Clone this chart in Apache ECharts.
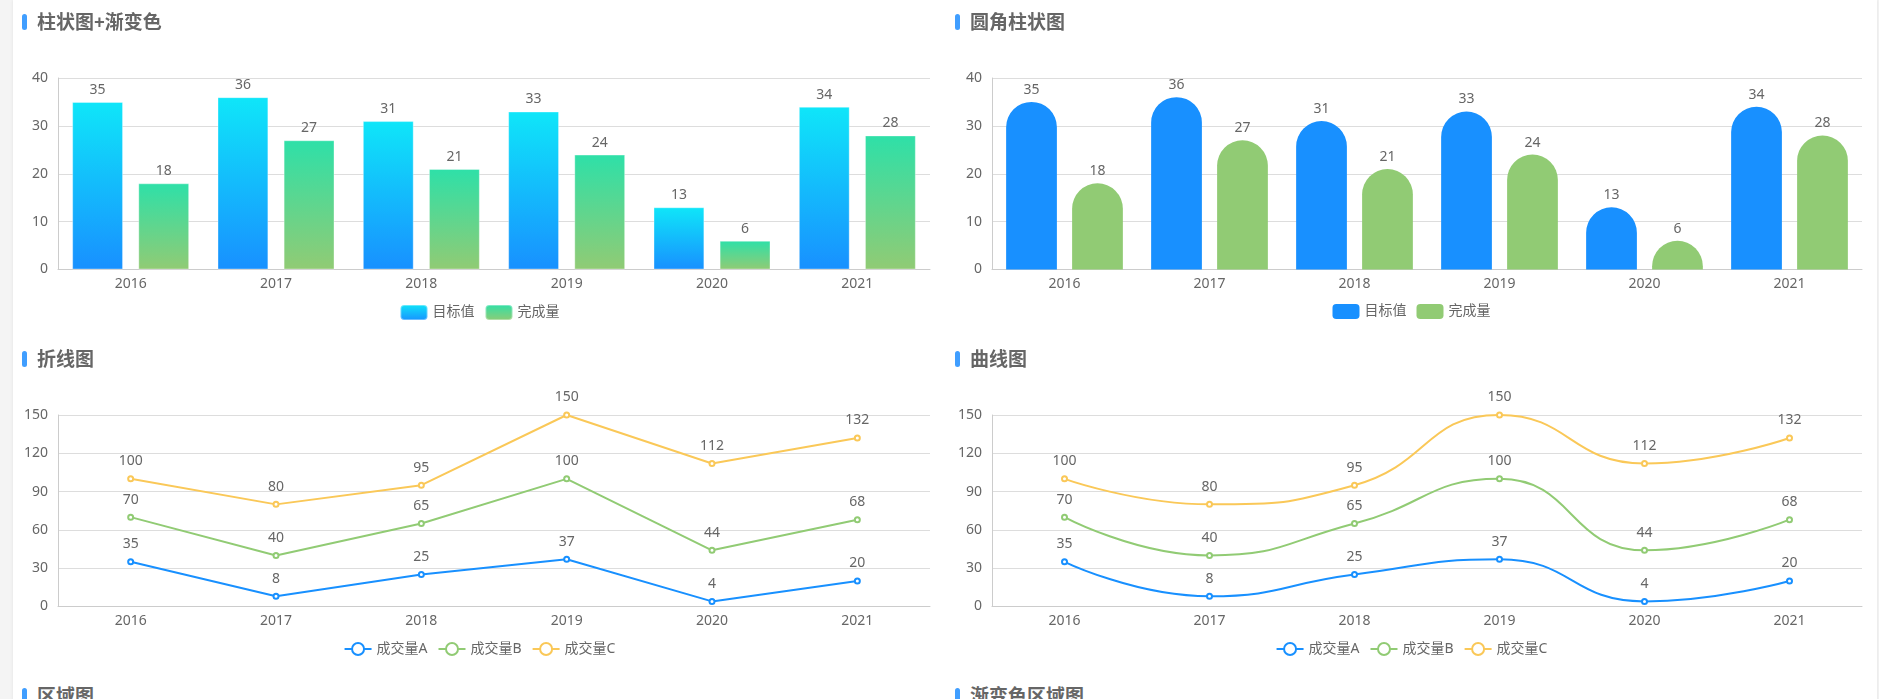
<!DOCTYPE html>
<html>
<head>
<meta charset="utf-8">
<script src="https://cdn.jsdelivr.net/npm/echarts@6/dist/echarts.min.js"></script>
<style>
  html, body { margin: 0; padding: 0; }
  body {
    width: 1879px; height: 699px; overflow: hidden;
    background: #f4f4f4;
    font-family: "Noto Sans", "Noto Sans CJK SC", sans-serif;
  }
  .page {
    position: absolute; left: 13px; top: 0; width: 1864px; height: 1100px;
    background: #fff; box-shadow: 0 0 3px rgba(0, 0, 0, 0.08);
  }
  .panel { position: absolute; }
  .title {
    position: absolute; left: 9px; top: 10px; height: 24px; line-height: 24px;
    padding-left: 15px; font-size: 19px; font-weight: bold; color: #666;
  }
  .title::before {
    content: ""; position: absolute; left: 0; top: 4px; width: 5px; height: 16px;
    border-radius: 3px; background: #409eff;
  }
  .chart { position: absolute; left: 0; top: 0; width: 100%; height: 100%; }
</style>
</head>
<body>
<div class="page">
  <div class="panel" style="left:0;top:0;width:933px;height:337px">
    <div class="chart" id="barGradient"></div>
    <div class="title">柱状图+渐变色</div>
  </div>
  <div class="panel" style="left:933px;top:0;width:931px;height:337px">
    <div class="chart" id="barRound"></div>
    <div class="title">圆角柱状图</div>
  </div>
  <div class="panel" style="left:0;top:337px;width:933px;height:337px">
    <div class="chart" id="lineChart"></div>
    <div class="title">折线图</div>
  </div>
  <div class="panel" style="left:933px;top:337px;width:931px;height:337px">
    <div class="chart" id="curveChart"></div>
    <div class="title">曲线图</div>
  </div>
  <div class="panel" style="left:0;top:674px;width:933px;height:337px">
    <div class="title">区域图</div>
  </div>
  <div class="panel" style="left:933px;top:674px;width:931px;height:337px">
    <div class="title">渐变色区域图</div>
  </div>
</div>
<script>
  // 数据
  var years = ["2016", "2017", "2018", "2019", "2020", "2021"];
  var targetValues = [35, 36, 31, 33, 13, 34];
  var doneValues = [18, 27, 21, 24, 6, 28];
  var dealA = [35, 8, 25, 37, 4, 20];
  var dealB = [70, 40, 65, 100, 44, 68];
  var dealC = [100, 80, 95, 150, 112, 132];

  var fontFamily = '"Noto Sans", "Noto Sans CJK SC", sans-serif';
  var textGray = "#666";

  function gradient(top, bottom) {
    return new echarts.graphic.LinearGradient(0, 0, 0, 1, [
      { offset: 0, color: top },
      { offset: 1, color: bottom }
    ]);
  }

  // 公共坐标轴配置
  function baseOption(gridLeft, gridRight, legendTop, yMax, yInterval) {
    return {
      textStyle: { fontFamily: fontFamily },
      grid: { left: gridLeft, right: gridRight, top: 78, bottom: 67.5 },
      legend: {
        top: legendTop,
        left: "center",
        itemWidth: 27,
        itemHeight: 15,
        itemGap: 10,
        textStyle: { fontSize: 14, color: textGray, fontFamily: fontFamily }
      },
      xAxis: {
        type: "category",
        data: years,
        axisLine: { lineStyle: { color: "#ccc" } },
        axisTick: { lineStyle: { color: "#ccc" } },
        axisLabel: { fontSize: 14, color: textGray, margin: 8 }
      },
      yAxis: {
        type: "value",
        min: 0,
        max: yMax,
        interval: yInterval,
        axisLine: { show: true, lineStyle: { color: "#ccc" } },
        axisTick: { show: false },
        splitLine: { lineStyle: { color: "#ddd" } },
        axisLabel: { fontSize: 14, color: textGray, margin: 10 }
      }
    };
  }

  function barLabel() {
    return { show: true, position: "top", fontSize: 14, color: textGray, distance: 5 };
  }

  // 柱状图+渐变色
  var chart1 = echarts.init(document.getElementById("barGradient"));
  var option1 = baseOption(45, 16, 299, 40, 10);
  option1.series = [
    {
      name: "目标值",
      type: "bar",
      data: targetValues,
      barWidth: "35%",
      barGap: "30%",
      label: barLabel(),
      itemStyle: {
        color: gradient("#0fe6f9", "#1890ff"),
        borderColor: "rgba(255,255,255,0.35)",
        borderWidth: 1
      }
    },
    {
      name: "完成量",
      type: "bar",
      data: doneValues,
      barWidth: "35%",
      label: barLabel(),
      itemStyle: {
        color: gradient("#2ee0a8", "#91cb74"),
        borderColor: "rgba(255,255,255,0.35)",
        borderWidth: 1
      }
    }
  ];
  chart1.setOption(option1);

  // 圆角柱状图
  var chart2 = echarts.init(document.getElementById("barRound"));
  var option2 = baseOption(46, 15, 299, 40, 10);
  option2.series = [
    {
      name: "目标值",
      type: "bar",
      data: targetValues,
      barWidth: "35%",
      barGap: "30%",
      label: barLabel(),
      itemStyle: { color: "#1890ff", borderRadius: [100, 100, 0, 0] }
    },
    {
      name: "完成量",
      type: "bar",
      data: doneValues,
      barWidth: "35%",
      label: barLabel(),
      itemStyle: { color: "#91cb74", borderRadius: [100, 100, 0, 0] }
    }
  ];
  chart2.setOption(option2);

  // 折线图 / 曲线图
  function lineSeries(name, data, color, smooth) {
    return {
      name: name,
      type: "line",
      data: data,
      smooth: smooth,
      symbol: "emptyCircle",
      symbolSize: 5,
      lineStyle: { width: 2, color: color },
      itemStyle: { color: color },
      label: { show: true, position: "top", fontSize: 14, color: textGray, distance: 7 }
    };
  }

  var chart3 = echarts.init(document.getElementById("lineChart"));
  var option3 = baseOption(45, 16, 300, 150, 30);
  option3.series = [
    lineSeries("成交量A", dealA, "#1890ff", false),
    lineSeries("成交量B", dealB, "#91cb74", false),
    lineSeries("成交量C", dealC, "#fac858", false)
  ];
  chart3.setOption(option3);

  var chart4 = echarts.init(document.getElementById("curveChart"));
  var option4 = baseOption(46, 15, 300, 150, 30);
  option4.series = [
    lineSeries("成交量A", dealA, "#1890ff", true),
    lineSeries("成交量B", dealB, "#91cb74", true),
    lineSeries("成交量C", dealC, "#fac858", true)
  ];
  chart4.setOption(option4);
</script>
</body>
</html>
